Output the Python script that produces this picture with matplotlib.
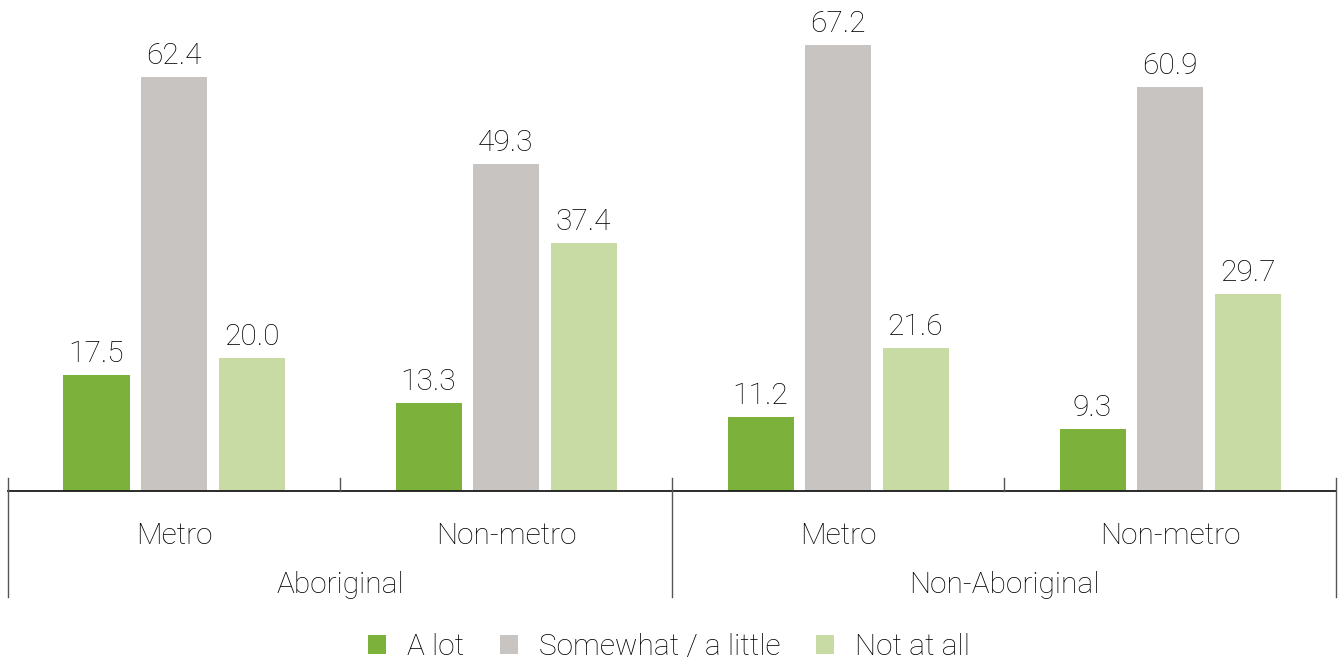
import matplotlib
matplotlib.use("Agg")
import matplotlib.pyplot as plt
import matplotlib.transforms as mtransforms
from matplotlib.patches import Patch
import numpy as np

plt.rcParams['font.family'] = ['Roboto', 'Liberation Sans', 'DejaVu Sans']
plt.rcParams['font.weight'] = 'light'

groups = ["Aboriginal", "Non-Aboriginal"]
subgroups = ["Metro", "Non-metro", "Metro", "Non-metro"]
series = ["A lot", "Somewhat / a little", "Not at all"]
a_lot = [17.5, 13.3, 11.2, 9.3]
somewhat = [62.4, 49.3, 67.2, 60.9]
not_at_all = [20.0, 37.4, 21.6, 29.7]
colors = ["#7cb13b", "#c8c4c1", "#c8dba5"]

W, H = 1338, 659
fig = plt.figure(figsize=(W / 100, H / 100), dpi=100)
ax = fig.add_axes([8 / W, 1 - 491 / H, (1336 - 8) / W, 491 / H])
ax.set_xlim(0, 4)
ax.set_ylim(0, 491 / 6.635)

x = np.arange(4) + 0.5
bw = 66 / 332
step = 77.5 / 332
fs = 21.5
tc = '#000000'
for i, (vals, c) in enumerate(zip([a_lot, somewhat, not_at_all], colors)):
    xs = x + (i - 1) * step
    ax.bar(xs, vals, width=bw, color=c, edgecolor='none')
    for xi, v in zip(xs, vals):
        ax.annotate(f"{v:.1f}", (xi, v), xytext=(0, 5), textcoords='offset points',
                    ha='center', va='bottom', fontsize=fs, color=tc, fontweight='light')

for s in ['top', 'right', 'left', 'bottom']:
    ax.spines[s].set_visible(False)
ax.set_xticks([])
ax.set_yticks([])

ax.plot([0, 4], [0, 0], color='#1a1a1a', lw=1.3, clip_on=False)
trans = mtransforms.blended_transform_factory(ax.transData, ax.transAxes)
ph = 491.0
for xv in [1, 3]:
    ax.plot([xv, xv], [0, 13 / ph], color='#555555', lw=1, transform=trans, clip_on=False)
for xv in [0, 2, 4]:
    ax.plot([xv, xv], [13 / ph, -106 / ph], color='#555555', lw=1, transform=trans, clip_on=False)

for xi, lab in zip(x, subgroups):
    ax.text(xi, -45 / ph, lab, transform=trans, ha='center', va='center', fontsize=fs,
            color=tc, fontweight='light')
for gi, lab in enumerate(groups):
    ax.text(gi * 2 + 1, -94 / ph, lab, transform=trans, ha='center', va='center', fontsize=fs,
            color=tc, fontweight='light')

handles = [Patch(facecolor=c, edgecolor='none') for c in colors]
fig.legend(handles, series, loc='center', bbox_to_anchor=(0.5, 1 - 647 / H), ncol=3,
           frameon=False, prop={'size': fs, 'weight': 'light'}, handlelength=0.6, handleheight=0.6,
           handletextpad=0.7, columnspacing=1.2, labelcolor=tc)

fig.savefig("out.png", dpi=100)
